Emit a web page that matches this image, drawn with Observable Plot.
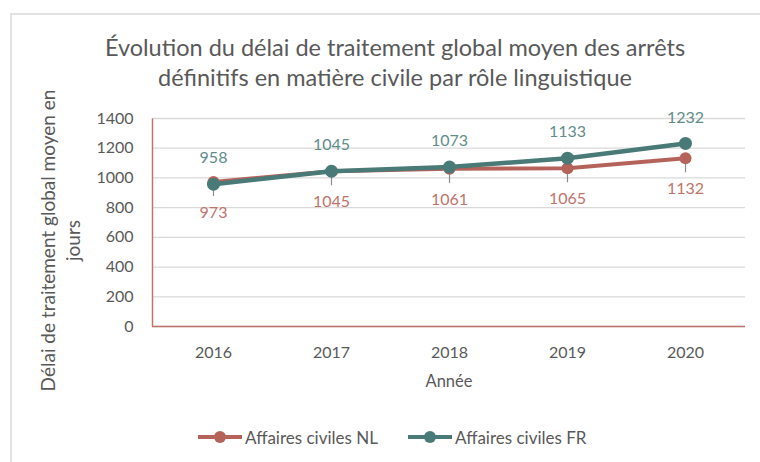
<!DOCTYPE html>
<html>
<head>
<meta charset="utf-8">
<script src="https://cdn.jsdelivr.net/npm/d3@7"></script>
<script src="https://cdn.jsdelivr.net/npm/@observablehq/plot@0.6"></script>
<style>
  body { margin:0; background:#fff; font-family: Lato, "Open Sans", sans-serif; }
  #wrap { position:relative; width:760px; height:462px; overflow:hidden; background:#fff; }
  #frame { position:absolute; left:10px; top:13px; width:770px; height:470px; border:2px solid #e2e2e2; box-sizing:border-box; }
  #title { position:absolute; left:45px; width:700px; top:32px; text-align:center; font-size:23.5px; line-height:30px; color:#595959; }
  #chart { position:absolute; left:0; top:100px; }
  #legend { position:absolute; top:426px; left:0; width:760px; height:22px; font-size:17px; color:#595959; }
  .item { position:absolute; top:0; display:flex; align-items:center; height:22px; }
  .sw { position:relative; width:44px; height:22px; margin-right:3px; }
  .sw .ln { position:absolute; left:0; top:9px; width:44px; height:4px; }
  .sw .dt { position:absolute; left:16px; top:5px; width:12px; height:12px; border-radius:50%; }
</style>
</head>
<body>
<div id="wrap">
  <div id="frame"></div>
  <div id="title"></div>
  <div id="chart"></div>
  <div id="legend"></div>
</div>
<script>
const titleLines = ["Évolution du délai de traitement global moyen des arrêts", "définitifs en matière civile par rôle linguistique"];
const yTitleLines = ["Délai de traitement global moyen en", "jours"];
const xTitle = "Année";
const years = ["2016", "2017", "2018", "2019", "2020"];
const nlValues = [973, 1045, 1061, 1065, 1132];
const frValues = [958, 1045, 1073, 1133, 1232];
const yTicks = [0, 200, 400, 600, 800, 1000, 1200, 1400];
const seriesNames = ["Affaires civiles NL", "Affaires civiles FR"];
const seriesColors = ["#b5635a", "#4a7a77"];
const labelColors = ["#c0736c", "#5f8d8a"];

const nl = years.map((y, i) => ({year: y, value: nlValues[i]}));
const fr = years.map((y, i) => ({year: y, value: frValues[i]}));

document.getElementById("title").innerHTML = titleLines.map(t => `<div>${t}</div>`).join("");

const leader = { draw(context, size) { context.moveTo(0, 0); context.lineTo(0, 14); } };

const W = 760, H = 300, ML = 152, MR = 15, MT = 18, MB = 74;
const fw = W - ML - MR, fh = H - MT - MB;

const chart = Plot.plot({
  width: W,
  height: H,
  marginLeft: ML,
  marginRight: MR,
  marginTop: MT,
  marginBottom: MB,
  style: { fontFamily: "Lato, 'Open Sans', sans-serif", color: "#595959", background: "transparent", overflow: "visible" },
  x: { type: "point", domain: years, padding: 0.5 },
  y: { domain: [0, 1400] },
  marks: [
    Plot.gridY(yTicks, { stroke: "#d9d9d9", strokeOpacity: 1, strokeWidth: 1.3 }),
    Plot.frame({ stroke: "#c0726b", strokeWidth: 1.5, strokeDasharray: `0,${2 * fw + fh},${fh + 2}` }),
    Plot.axisY(yTicks, { tickSize: 0, tickPadding: 19, fontSize: 16, fill: "#595959", tickFormat: d => String(d), label: null }),
    Plot.axisX({ tickSize: 0, tickPadding: 20, fontSize: 16, fill: "#595959", label: null }),
    Plot.ruleY([0], { stroke: "#c0726b", strokeWidth: 1.5 }),
    Plot.text([xTitle], { frameAnchor: "bottom", dy: 60, fontSize: 16.5, fill: "#595959" }),
    Plot.text([yTitleLines.join("\n")], { frameAnchor: "left", textAnchor: "middle", rotate: -90, dx: -93, dy: 18, fontSize: 19, lineHeight: 1.33, fill: "#595959" }),
    Plot.dot(nl, { x: "year", y: "value", symbol: leader, stroke: "#8c8c8c", fill: "none", strokeWidth: 1.2 }),
    Plot.line(nl, { x: "year", y: "value", stroke: seriesColors[0], strokeWidth: 4 }),
    Plot.dot(nl, { x: "year", y: "value", r: 6, fill: seriesColors[0] }),
    Plot.line(fr, { x: "year", y: "value", stroke: seriesColors[1], strokeWidth: 4.5 }),
    Plot.dot(fr, { x: "year", y: "value", r: 6.5, fill: seriesColors[1] }),
    Plot.text(fr, { x: "year", y: "value", text: d => String(d.value), dy: -26, fontSize: 16, fill: labelColors[1] }),
    Plot.text(nl, { x: "year", y: "value", text: d => String(d.value), dy: 31, fontSize: 16, fill: labelColors[0] })
  ]
});
document.getElementById("chart").appendChild(chart);

const legend = document.getElementById("legend");
const lefts = [198, 408];
seriesNames.forEach((name, i) => {
  const it = document.createElement("div");
  it.className = "item";
  it.style.left = lefts[i] + "px";
  it.innerHTML = `<div class="sw"><div class="ln" style="background:${seriesColors[i]}"></div><div class="dt" style="background:${seriesColors[i]}"></div></div><span>${name}</span>`;
  legend.appendChild(it);
});
</script>
</body>
</html>
